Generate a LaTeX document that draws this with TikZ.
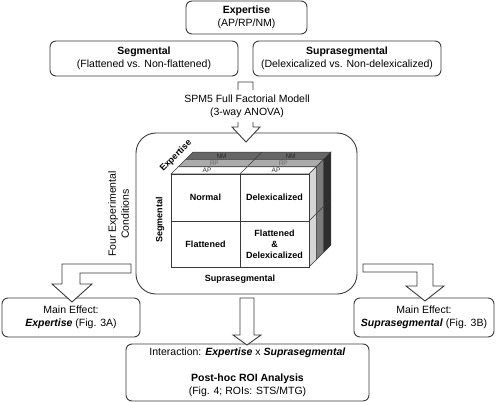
\documentclass[tikz,border=0pt]{standalone}
\usepackage{fontspec}
\setmainfont{Liberation Sans}
\definecolor{EdgeGray}{HTML}{3A3A3A}
\definecolor{TopNM}{HTML}{666666}
\definecolor{SideNM}{HTML}{2E2E2E}
\definecolor{TopRP}{HTML}{ABABAB}
\definecolor{SideRP}{HTML}{7C7C7C}
\definecolor{SideAP}{HTML}{D6D6D6}
\tikzset{
    box/.style={rectangle, rounded corners=6pt, draw=EdgeGray, line width=0.9pt,
                align=center, inner sep=0, font=\fontsize{10.5}{13}\selectfont},
    panel/.style={rectangle, rounded corners=20pt, draw=EdgeGray, line width=0.9pt,
                minimum width=221pt, minimum height=161pt, inner sep=0},
    cell/.style={rectangle, draw=EdgeGray, line width=0.7pt, fill=white, align=center,
                minimum width=69pt, minimum height=47pt, inner sep=0,
                font=\fontsize{9}{11}\selectfont\bfseries},
    axislabel/.style={inner sep=0, font=\fontsize{9}{11}\selectfont\bfseries},
    layerlabel/.style={inner sep=0, font=\fontsize{6.5}{7}\selectfont},
    plaintext/.style={align=center, font=\fontsize{10.5}{13}\selectfont},
    blockarrow/.style={draw=EdgeGray, line width=0.9pt, fill=white, line join=miter},
    facet/.style={draw=EdgeGray, line width=0.6pt},
}
\newcommand{\layer}[5]{%
    \begin{scope}[shift={(#1,-#1)}]
        \draw[facet, fill=#2] (171,174) -- (309,174) -- (316.3,166.7) -- (178.3,166.7) -- cycle;
        \draw[facet, fill=#3] (309,174) -- (316.3,166.7) -- (316.3,259.7) -- (309,267) -- cycle;
        \draw[facet] (240,174) -- (247.3,166.7);
        \draw[facet] (309,221) -- (316.3,213.7);
        \node[layerlabel, text=#5] at (207,170.4) {#4};
        \node[layerlabel, text=#5] at (276,170.4) {#4};
    \end{scope}
}

\begin{document}
\begin{tikzpicture}[x=1pt, y=-1pt]
        \useasboundingbox (0,0) rectangle (499,402);
        %
        % Factors
        \node[box, minimum width=121pt, minimum height=33pt] (expertiseBox) at (246.5,17.5)
            {\textbf{Expertise}\\(AP/RP/NM)};
        \node[box, minimum width=188pt, minimum height=35pt] (segmentalBox) at (144,58.5)
            {\textbf{Segmental}\\(Flattened vs. Non-flattened)};
        \node[box, minimum width=188pt, minimum height=35pt] (supraBox) at (347,58.5)
            {\textbf{Suprasegmental}\\(Delexicalized vs. Non-delexicalized)};
        %
        % Design panel
        \node[panel] (factorialPanel) at (246.5,213.5) {};
        \layer{14.6}{TopNM}{SideNM}{NM}{black!85}
        \layer{7.3}{TopRP}{SideRP}{RP}{black!60}
        \layer{0}{white}{SideAP}{AP}{black!80}
        \node[cell] (cellNormal) at (205.5,197.5) {Normal};
        \node[cell] (cellDelex) at (274.5,197.5) {Delexicalized};
        \node[cell, minimum height=46pt] (cellFlat) at (205.5,244) {Flattened};
        \node[cell, minimum height=46pt] (cellBoth) at (274.5,244) {Flattened\\\&\\Delexicalized};
        \node[axislabel, rotate=45] (expertiseAxis) at (176,156) {Expertise};
        \node[axislabel, rotate=90] (segmentalAxis) at (160,220) {Segmental};
        \node[axislabel] (supraAxis) at (240,279) {Suprasegmental};
        \node[plaintext, rotate=90] (conditionsLabel) at (118.5,214) {Four Experimental\\Conditions};
        %
        % Model arrow
        \draw[blockarrow] (238,82) -- (253,82) -- (253,127) -- (260,127) -- (246,142)
            -- (232,127) -- (238,127) -- cycle;
        \node[plaintext, fill=white, inner sep=0, minimum height=32pt] (spmLabel) at (247,106)
            {SPM5 Full Factorial Modell\\(3-way ANOVA)};
        %
        % Results
        \node[box, minimum width=138pt, minimum height=39pt] (effectExpertise) at (71,317.5)
            {Main Effect:\\\textbf{\textit{Expertise}} (Fig. 3A)};
        \node[box, minimum width=140pt, minimum height=39pt] (effectSupra) at (424,317.5)
            {Main Effect:\\\textbf{\textit{Suprasegmental}} (Fig. 3B)};
        \node[box, minimum width=243pt, minimum height=57pt] (interactionBox) at (247.5,372.5)
            {Interaction: \textbf{\textit{Expertise}} x \textbf{\textit{Suprasegmental}}\\[13pt]
             \textbf{Post-hoc ROI Analysis}\\(Fig. 4; ROIs: STS/MTG)};
        %
        \draw[blockarrow] (131,264) -- (62,264) -- (62,284) -- (52,284) -- (72,302)
            -- (92,284) -- (80,284) -- (80,273) -- (131,273) -- cycle;
        \draw[blockarrow] (363,264) -- (433,264) -- (433,286) -- (444,286) -- (425,301)
            -- (406,286) -- (417,286) -- (417,272) -- (363,272) -- cycle;
        \draw[blockarrow] (240,298) -- (254,298) -- (254,335) -- (261,335) -- (247,345)
            -- (233,335) -- (240,335) -- cycle;
\end{tikzpicture}
\end{document}
